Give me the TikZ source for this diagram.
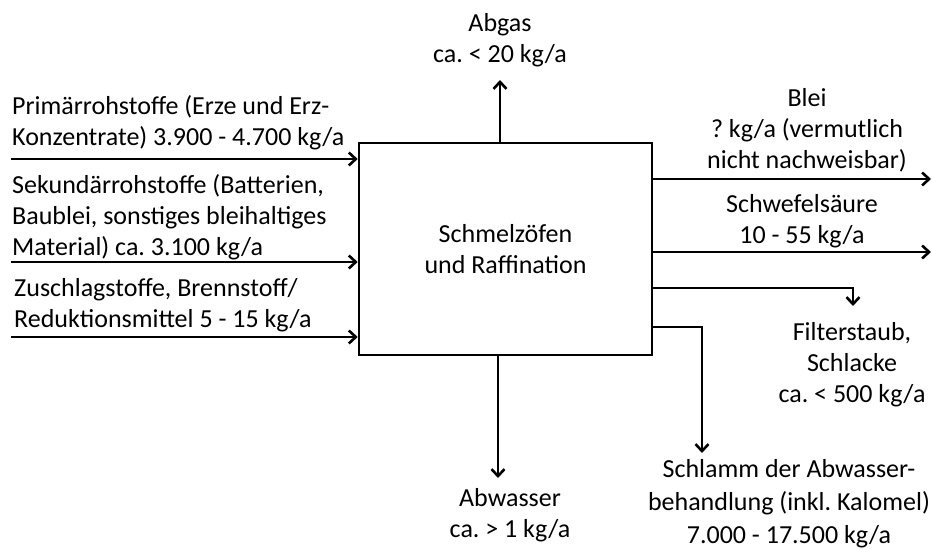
\documentclass[tikz,border=0pt]{standalone}
\usepackage{fontspec}
\setmainfont{Carlito}
\usetikzlibrary{arrows.meta}
\frenchspacing
\begin{document}
\begin{tikzpicture}[x=1pt,y=-1pt,
  lbl/.style={inner sep=0pt,font=\fontsize{26}{31}\selectfont\frenchspacing},
  flow/.style={line width=2.6pt,-{Straight Barb[length=7pt,width=13pt,line width=2.6pt]}},
  proc/.style={draw,line width=2.6pt,minimum width=293pt,minimum height=212pt,inner sep=0pt,align=center,font=\fontsize{26}{31}\selectfont}]
\useasboundingbox (0,0) rectangle (932,549);
\node[proc] (box) at (505.5,249) {Schmelzöfen\\und Raffination};
% inputs
\coordinate (i1) at (11,159);
\coordinate (i2) at (11,262);
\coordinate (i3) at (11,337);
\draw[flow] (i1) -- (i1 -| box.west);
\draw[flow] (i2) -- (i2 -| box.west);
\draw[flow] (i3) -- (i3 -| box.west);
\node[lbl,anchor=base west,align=left] (t1) at (12,145) {Primärrohstoffe (Erze und Erz-\\Konzentrate) 3.900 - 4.700 kg/a};
\node[lbl,anchor=base west,align=left] (t2) at (12,255) {Sekundärrohstoffe (Batterien,\\Baublei, sonstiges bleihaltiges\\Material) ca. 3.100 kg/a};
\node[lbl,anchor=base west,align=left] (t3) at (14,327) {Zuschlagstoffe, Brennstoff/\\Reduktionsmittel 5 - 15 kg/a};
% top
\coordinate (o1) at (500,80);
\draw[flow] (o1 |- box.north) -- (o1);
\node[lbl,anchor=base,align=center] (abgas) at (500,62) {Abgas\\ca. < 20 kg/a};
% bottom
\coordinate (o2) at (498,478);
\draw[flow] (o2 |- box.south) -- (o2);
\node[lbl,anchor=base,align=center] (abw) at (510,537) {Abwasser\\ca. > 1 kg/a};
% right
\coordinate (o3) at (931,179);
\coordinate (o4) at (931,252);
\draw[flow] (o3 -| box.east) -- (o3);
\draw[flow] (o4 -| box.east) -- (o4);
\node[lbl,anchor=base,align=center] (blei) at (807,168) {Blei\\? kg/a (vermutlich\\nicht nachweisbar)};
\node[lbl,anchor=base,align=center] (schw) at (802,243) {Schwefelsäure\\10 - 55 kg/a};
% filter
\coordinate (f1) at (652,288);
\coordinate (f2) at (853,306);
\draw[flow] (f1) -| (f2);
\node[lbl,anchor=base,align=center] (filt) at (852,402) {Filterstaub,\\Schlacke\\ca. < 500 kg/a};
% schlamm
\coordinate (s1) at (652,327);
\coordinate (s2) at (702,453);
\draw[flow] (s1) -| (s2);
\node[lbl,anchor=base,align=center,font=\fontsize{26}{33}\selectfont\frenchspacing] (schl) at (789,543) {Schlamm der Abwasser-\\behandlung (inkl. Kalomel)\\7.000 - 17.500 kg/a};
\end{tikzpicture}
\end{document}
